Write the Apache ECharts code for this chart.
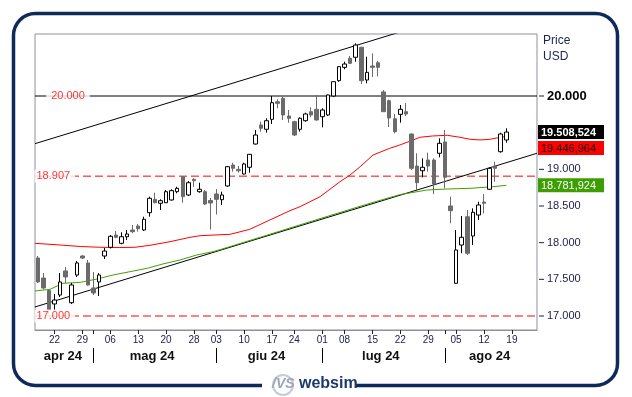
<!DOCTYPE html>
<html>
<head>
<meta charset="utf-8">
<script src="https://cdn.jsdelivr.net/npm/echarts@6.0.0/dist/echarts.min.js"></script>
<style>
  html, body { margin: 0; padding: 0; background: #fff; }
  #chart { width: 632px; height: 397px; }
</style>
</head>
<body>
<div id="chart"></div>
<script>
// giorni di borsa (ultimi 5 di agosto: spazio vuoto a destra)
var daysApr = [17, 18, 19, 22, 23, 24, 25, 26, 29, 30];
var daysMay = [1, 2, 3, 6, 7, 8, 9, 10, 13, 14, 15, 16, 17, 20, 21, 22, 23, 24, 28, 29, 30, 31];
var daysJun = [3, 4, 5, 6, 7, 10, 11, 12, 13, 14, 17, 18, 20, 21, 24, 25, 26, 27, 28];
var daysJul = [1, 2, 3, 5, 8, 9, 10, 11, 12, 15, 16, 17, 18, 19, 22, 23, 24, 25, 26, 29, 30, 31];
var daysAug = [1, 2, 5, 6, 7, 8, 9, 12, 13, 14, 15, 16, 19, 20, 21, 22, 23];
var monthNames = ['gen', 'feb', 'mar', 'apr', 'mag', 'giu', 'lug', 'ago', 'set', 'ott', 'nov', 'dic'];

var open = [17791, 17518, 17347, 17164, 17286, 17614, 17181, 17559, 17818, 17723,
  17382, 17464, 17818, 17937, 18104, 17991, 18081, 18173, 18227, 18173,
  18409, 18591, 18537, 18545, 18582, 18695, 18900, 18650, 18864, 18695,
  18695, 18575, 18664, 18586, 18773, 19059, 19000, 18936, 19028, 19345,
  19605, 19546, 19682, 19922, 19969, 19727, 19650, 19546, 19663, 19786,
  19819, 19718, 19741, 20000, 20209, 20391, 20514, 20528, 20664, 20218,
  20409, 20454, 20055, 19936, 19690, 19750, 19786, 19482, 19045, 18981,
  19127, 19127, 19219, 19373, 18500, 17446, 17968, 18354, 18091, 18377,
  18554, 18728, 19045, 19240, 19400];
var high = [17818, 17586, 17368, 17300, 17586, 17668, 17450, 17750, 17832, 17764,
  17600, 17586, 17927, 18104, 18159, 18141, 18173, 18241, 18254, 18354,
  18627, 18681, 18591, 18718, 18728, 18763, 18909, 18841, 18878, 18818,
  18718, 18609, 18732, 18695, 19045, 19090, 19045, 19090, 19209, 19536,
  19650, 19696, 20000, 19955, 19990, 19809, 19663, 19710, 19772, 19846,
  20014, 19832, 20020, 20200, 20409, 20468, 20545, 20719, 20672, 20536,
  20582, 20481, 20082, 19952, 19755, 19877, 19905, 19489, 19219, 19150,
  19227, 19150, 19423, 19536, 18627, 18173, 18364, 18445, 18468, 18559,
  18664, 19022, 19104, 19500, 19560];
var low = [17450, 17361, 17034, 17082, 17259, 17450, 17164, 17532, 17777, 17416,
  17286, 17273, 17777, 17920, 18059, 17978, 18036, 18128, 18150, 18159,
  18354, 18537, 18445, 18541, 18575, 18673, 18545, 18636, 18763, 18681,
  18514, 18179, 18384, 18514, 18763, 18968, 18954, 18930, 18954, 19339,
  19513, 19500, 19618, 19832, 19673, 19636, 19455, 19513, 19650, 19710,
  19663, 19573, 19727, 19990, 20195, 20364, 20436, 20468, 20164, 20173,
  20259, 20266, 19782, 19577, 19491, 19636, 19727, 18991, 18718, 18891,
  18968, 18664, 19164, 18741, 18264, 17436, 17855, 17832, 17968, 18309,
  18400, 18722, 18831, 19227, 19363];
var close = [17464, 17382, 17082, 17218, 17464, 17532, 17423, 17723, 17791, 17423,
  17314, 17559, 17886, 18087, 18073, 18081, 18118, 18150, 18190, 18319,
  18605, 18545, 18572, 18695, 18709, 18741, 18627, 18818, 18845, 18728,
  18527, 18541, 18591, 18650, 19036, 19014, 18981, 19073, 19205, 19468,
  19560, 19663, 19909, 19900, 19741, 19696, 19468, 19696, 19755, 19741,
  19673, 19809, 20014, 20195, 20400, 20436, 20446, 20695, 20209, 20323,
  20391, 20391, 19786, 19700, 19513, 19819, 19755, 19014, 18818, 19028,
  19045, 18800, 19355, 18891, 18436, 17900, 18073, 17855, 18414, 18514,
  18537, 19014, 19014, 19482, 19508.524];

// medie mobili: [indice giorno, valore]
var maRed = [[-0.5, 17991], [4, 17968], [7.6, 17948], [11.2, 17937], [14.7, 17934], [17.4, 17937],
  [20.1, 17964], [23.7, 18013], [27.3, 18073], [29.1, 18095], [34.5, 18114], [38, 18182],
  [41.6, 18309], [45.2, 18436], [47, 18490], [50.6, 18627], [54.2, 18832], [56, 18923],
  [57.8, 19036], [60.1, 19195], [63.1, 19287], [64.9, 19332], [67.3, 19400], [68.5, 19437],
  [70.8, 19455], [73.4, 19464], [75.7, 19437], [77.5, 19410], [79.3, 19400], [81.1, 19410],
  [82.9, 19437], [84, 19446.964]];
var maGreen = [[-0.5, 17341], [2.2, 17364], [4.5, 17446], [7.6, 17459], [10.6, 17504], [13.5, 17559],
  [16.5, 17604], [19.6, 17650], [22.4, 17709], [25.5, 17764], [28.5, 17832], [31.4, 17877],
  [32.7, 17905], [41, 18100], [50.6, 18328], [59.6, 18538], [64.9, 18655], [69.8, 18718], [73.4, 18732],
  [77.5, 18741], [81.6, 18763], [84, 18781.924]];

// trendline del canale
var trendUpper = [[-0.5, 19350], [89.5, 21444]];
var trendLower = [[-0.5, 17123], [89.5, 19219]];

var level20 = 20000;
var levelsDashed = [18907, 17000];
var yTicks = [17000, 17500, 18000, 18500, 19000, 20000];

var FONT = '"Liberation Sans", Arial, sans-serif';
var NAVY = '#1c1c4c';

function itNum(v, dec) {
  var s = v.toFixed(dec).split('.');
  var i = s[0].replace(/\B(?=(\d{3})+(?!\d))/g, '.');
  return s.length > 1 ? i + ',' + s[1] : i;
}
function pad2(n) { return (n < 10 ? '0' : '') + n; }

var dates = [];
[[4, daysApr], [5, daysMay], [6, daysJun], [7, daysJul], [8, daysAug]].forEach(function (m) {
  m[1].forEach(function (d) { dates.push('2024-' + pad2(m[0]) + '-' + pad2(d)); });
});
var nCat = dates.length;

var weekIdx = [], monthStart = [], monthMid = [], monthLab = {};
var groupStart = 0;
for (var i = 0; i < nCat; i++) {
  var d = new Date(dates[i] + 'T12:00:00');
  if (i > 0) {
    var p = new Date(dates[i - 1] + 'T12:00:00');
    if (d.getDay() < p.getDay()) weekIdx.push(i);
    if (d.getMonth() !== p.getMonth()) {
      monthStart.push(i);
      var mid = (groupStart + i - 1) / 2;
      monthMid.push(mid);
      monthLab[mid] = monthNames[p.getMonth()] + ' 24';
      groupStart = i;
    }
  }
}
var lastMid = (groupStart + nCat - 1) / 2;
monthMid.push(lastMid);
monthLab[lastMid] = monthNames[new Date(dates[nCat - 1] + 'T12:00:00').getMonth()] + ' 24';
var tickIdx = weekIdx.concat(monthStart);

var ohlc = open.map(function (o, k) { return [o, close[k], low[k], high[k]]; });

// etichetta di prezzo sul bordo destro; shift = righe vuote sopra per spostarla in basso
function tag(value, bg, fg, bold, shift) {
  return {
    symbol: 'none', silent: true, animation: false,
    lineStyle: { color: 'rgba(0,0,0,0)', width: 1, type: 'solid' },
    data: [{ yAxis: value }],
    label: {
      show: true, position: 'end', distance: 1,
      formatter: (shift ? '{g|}\n' : '') + '{v|' + itNum(value, 3) + '}',
      rich: {
        g: { height: shift || 0, lineHeight: shift || 0 },
        v: {
          color: fg, backgroundColor: bg, fontFamily: FONT, fontSize: 11,
          fontWeight: bold ? 'bold' : 'normal',
          padding: [2, 4, 1, 3], width: 59, lineHeight: 11
        }
      }
    }
  };
}

var chart = echarts.init(document.getElementById('chart'));
var option = {
  animation: false,
  backgroundColor: '#fff',
  textStyle: { fontFamily: FONT },
  grid: {
    left: 35, top: 34, width: 502, height: 296,
    show: true, borderColor: '#8f8f9f', borderWidth: 1, backgroundColor: '#fff'
  },
  xAxis: [
    { type: 'category', data: dates, show: false, boundaryGap: true },
    {
      type: 'value', min: -0.5, max: nCat - 0.5, position: 'bottom',
      axisLine: { show: true, lineStyle: { color: '#8f8f9f' } },
      axisTick: { show: true, customValues: tickIdx, length: 4, lineStyle: { color: '#222' } },
      axisLabel: {
        customValues: weekIdx, margin: 5, fontSize: 10, color: NAVY, fontFamily: FONT,
        formatter: function (v) { return dates[Math.round(v)].slice(8); }
      },
      splitLine: { show: false }
    },
    {
      type: 'value', min: -0.5, max: nCat - 0.5, position: 'bottom', offset: 18,
      axisLine: { show: false },
      axisTick: { show: true, customValues: monthStart, length: 15, lineStyle: { color: '#000' } },
      axisLabel: {
        customValues: monthMid, margin: 2, fontSize: 13, fontWeight: 'bold', color: '#111', fontFamily: FONT,
        formatter: function (v) { return monthLab[v] || ''; }
      },
      splitLine: { show: false }
    }
  ],
  yAxis: {
    type: 'value', position: 'right', min: 16809, max: 20845.5,
    axisLine: { show: false },
    splitLine: { show: false },
    axisTick: { show: false },
    axisLabel: {
      customValues: yTicks, margin: 2, fontSize: 11, color: NAVY, fontFamily: FONT,
      formatter: function (v) {
        return '{t|}{s|}' + (v === level20 ? '{b|' + itNum(v, 0) + '}' : itNum(v, 0));
      },
      rich: {
        t: { width: 5, height: 1, backgroundColor: NAVY },
        s: { width: 3 },
        b: { fontSize: 13, fontWeight: 'bold', color: '#000', fontFamily: FONT }
      }
    }
  },
  series: [
    {
      type: 'line', xAxisIndex: 1, data: [[-0.5, level20], [nCat - 0.5, level20]],
      symbol: 'none', lineStyle: { color: '#000', width: 1 }, z: 2, silent: true
    },
    {
      type: 'line', xAxisIndex: 1, data: [[-0.5, levelsDashed[0]], [nCat - 0.5, levelsDashed[0]]],
      symbol: 'none', lineStyle: { color: '#ff0000', width: 1, type: [8, 4] }, z: 2, silent: true
    },
    {
      type: 'line', xAxisIndex: 1, data: [[-0.5, levelsDashed[1]], [nCat - 0.5, levelsDashed[1]]],
      symbol: 'none', lineStyle: { color: '#ff0000', width: 1, type: [8, 4] }, z: 2, silent: true
    },
    {
      type: 'line', xAxisIndex: 1, data: trendUpper, symbol: 'none',
      lineStyle: { color: '#000', width: 1 }, z: 2, silent: true
    },
    {
      type: 'line', xAxisIndex: 1, data: trendLower, symbol: 'none',
      lineStyle: { color: '#000', width: 1 }, z: 2, silent: true
    },
    {
      type: 'line', xAxisIndex: 1, data: maGreen, symbol: 'none',
      lineStyle: { color: '#44a000', width: 1 }, z: 3, silent: true,
      markLine: tag(maGreen[maGreen.length - 1][1], '#3c9e00', '#fff', false, 0)
    },
    {
      type: 'line', xAxisIndex: 1, data: maRed, symbol: 'none',
      lineStyle: { color: '#ff0000', width: 1 }, z: 3, silent: true,
      markLine: tag(maRed[maRed.length - 1][1], '#ff0000', '#200000', false, 23)
    },
    {
      type: 'candlestick', xAxisIndex: 0, data: ohlc, barWidth: 4, z: 5,
      itemStyle: {
        color: '#fff', color0: '#6b6b6b',
        borderColor: '#000', borderColor0: '#6b6b6b', borderWidth: 1
      },
      markLine: tag(close[close.length - 1], '#000', '#fff', true, 0)
    },
    {
      type: 'scatter', xAxisIndex: 1, symbolSize: 1, z: 8, silent: true,
      itemStyle: { color: 'transparent' },
      data: [
        { value: [5.42, level20], label: { padding: [1, 5, 1, 5] } },
        { value: [3.05, levelsDashed[0]], label: { padding: [1, 5, 1, 2] } },
        { value: [3.05, levelsDashed[1]], label: { padding: [1, 5, 1, 2] } }
      ],
      label: {
        show: true, position: 'inside', color: '#ff0000', fontSize: 11, fontFamily: FONT,
        backgroundColor: '#fff',
        formatter: function (p) { return itNum(p.value[1], 0); }
      }
    }
  ],
  graphic: [
    {
      type: 'rect', silent: true, z: -10,
      shape: { x: 13.5, y: 13.5, width: 604, height: 372, r: 22 },
      style: { fill: 'none', stroke: '#0e2a5a', lineWidth: 3.5 }
    },
    { type: 'text', left: 543, top: 35, silent: true,
      style: { text: 'Price', fontSize: 12, fill: '#1a2550', fontFamily: FONT } },
    { type: 'text', left: 543, top: 51, silent: true,
      style: { text: 'USD', fontSize: 12, fill: '#1a2550', fontFamily: FONT } },
    {
      type: 'rect', silent: true, z: 10,
      shape: { x: 262, y: 376, width: 94, height: 20 },
      style: { fill: '#fff' }
    },
    {
      type: 'circle', silent: true, z: 11,
      shape: { cx: 283, cy: 385, r: 10 },
      style: { fill: 'none', stroke: '#c5ccd8', lineWidth: 2 }
    },
    { type: 'text', left: 272, top: 377, silent: true, z: 12,
      style: { text: '/VS', fontSize: 14, fontStyle: 'italic', fontWeight: 'bold', fill: '#9aa5b8', fontFamily: FONT } },
    { type: 'text', left: 299, top: 376, silent: true, z: 11,
      style: { text: 'websim', fontSize: 16, fontWeight: 'bold', fill: '#1b3a6b', fontFamily: FONT } }
  ]
};
chart.setOption(option);
window.addEventListener('resize', function () { chart.resize(); });
</script>
</body>
</html>
